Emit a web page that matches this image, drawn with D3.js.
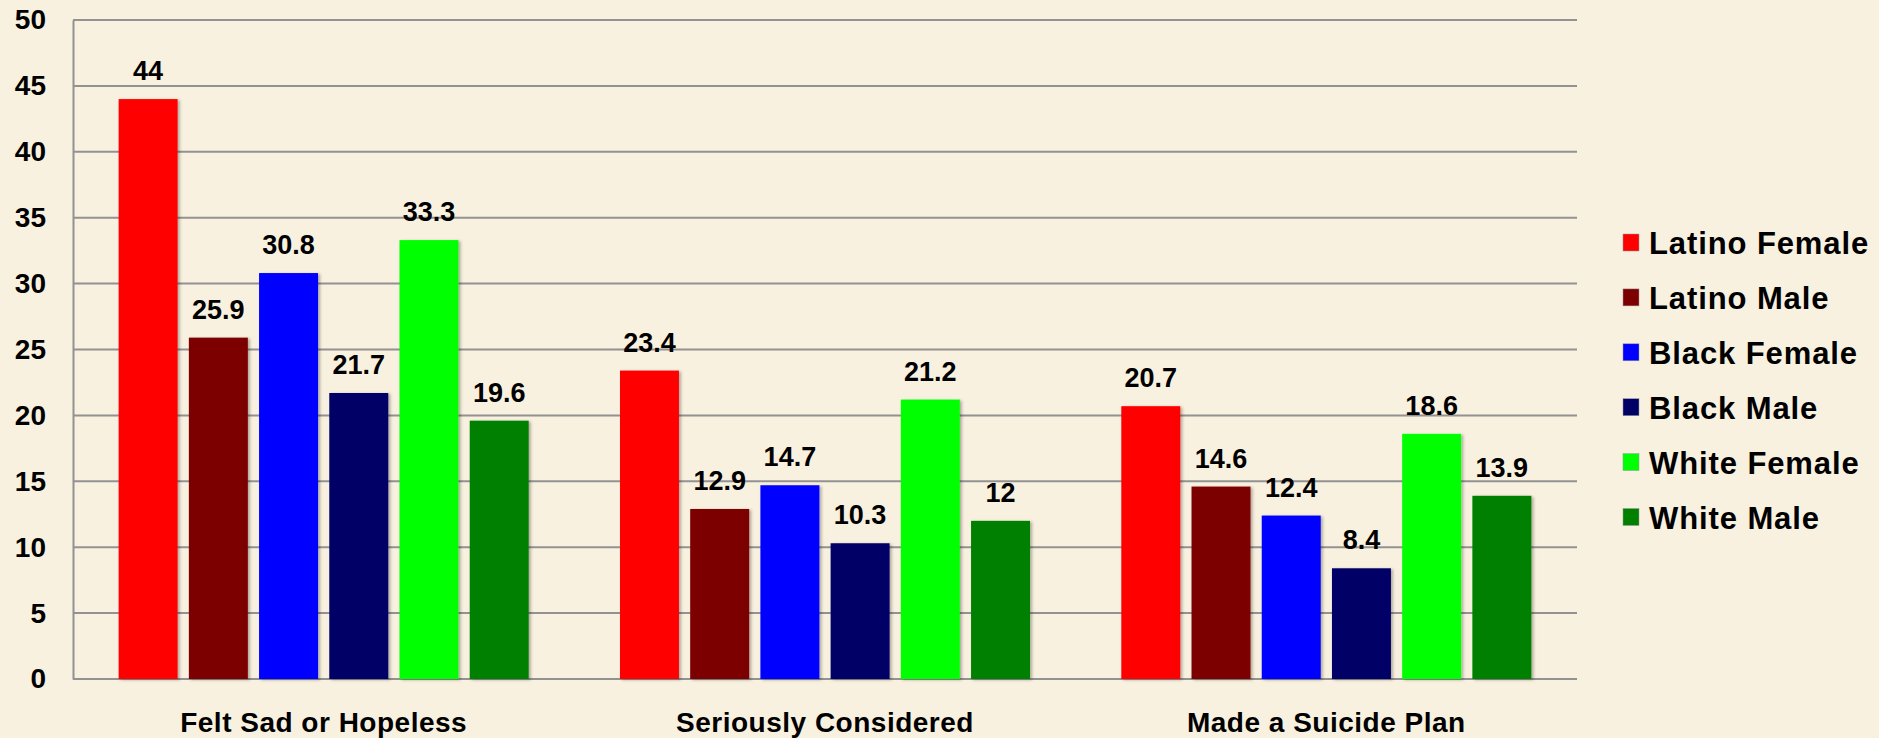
<!DOCTYPE html>
<html>
<head>
<meta charset="utf-8">
<script src="https://cdn.jsdelivr.net/npm/d3@7"></script>
<style>
  html, body { margin: 0; padding: 0; background: #F9F1DF; }
  svg { display: block; }
</style>
</head>
<body>
<div id="chart"></div>
<script>
const categories = ['Felt Sad or Hopeless', 'Seriously Considered', 'Made a Suicide Plan'];
const series = ['Latino Female', 'Latino Male', 'Black Female', 'Black Male', 'White Female', 'White Male'];
const colors = ['#FF0000', '#7D0000', '#0000FF', '#000066', '#00FF00', '#008000'];
const latinoFemale = [44, 23.4, 20.7];
const latinoMale = [25.9, 12.9, 14.6];
const blackFemale = [30.8, 14.7, 12.4];
const blackMale = [21.7, 10.3, 8.4];
const whiteFemale = [33.3, 21.2, 18.6];
const whiteMale = [19.6, 12, 13.9];
const yTicks = [0, 5, 10, 15, 20, 25, 30, 35, 40, 45, 50];

const values = [latinoFemale, latinoMale, blackFemale, blackMale, whiteFemale, whiteMale];

const chartWidth = 1879, chartHeight = 738;
const plotLeft = 73, plotRight = 1577, plotTop = 20, plotBottom = 679;

var svg = d3.select('#chart').append('svg')
	.attr('width', chartWidth)
	.attr('height', chartHeight)
	.style('background', '#F9F1DF')

var defs = svg.append('defs')
defs.append('filter')
	.attr('id', 'shadow')
	.attr('x', '-10%').attr('y', '-10%')
	.attr('width', '130%').attr('height', '130%')
	.append('feDropShadow')
	.attr('dx', 2).attr('dy', 1)
	.attr('stdDeviation', 1.5)
	.attr('flood-color', '#000')
	.attr('flood-opacity', 0.3)

var y = d3.scaleLinear().domain([0, 50]).range([plotBottom, plotTop])
var x0 = d3.scaleBand().domain(categories).range([plotLeft, plotRight]).padding(0)
var x1 = d3.scaleBand().domain(series).range([0, x0.bandwidth()])
	.paddingInner(0.16).paddingOuter(0.65)
var color = d3.scaleOrdinal().domain(series).range(colors)

// gridlines
svg.append('g')
	.selectAll('line')
	.data(yTicks)
	.join('line')
	.attr('x1', plotLeft).attr('x2', plotRight)
	.attr('y1', d => y(d)).attr('y2', d => y(d))
	.attr('stroke', '#929292')
	.attr('stroke-width', 2)

// left axis
var yAxis = svg.append('g')
	.attr('transform', 'translate(' + plotLeft + ',0)')
	.call(d3.axisLeft(y).tickValues(yTicks).tickSize(0).tickPadding(27))
yAxis.select('.domain').attr('stroke', '#929292').attr('stroke-width', 2)
yAxis.selectAll('text')
	.style('font-family', 'Liberation Sans, Arial, sans-serif')
	.style('font-weight', 'bold')
	.style('font-size', '28px')
	.attr('fill', '#000')

// bars
var rows = [];
categories.forEach(function(c, ci) {
	series.forEach(function(s, si) {
		rows.push({cat: c, ser: s, val: values[si][ci]});
	});
});

svg.append('g')
	.selectAll('rect')
	.data(rows)
	.join('rect')
	.attr('x', d => x0(d.cat) + x1(d.ser))
	.attr('y', d => y(d.val))
	.attr('width', x1.bandwidth())
	.attr('height', d => y(0) - y(d.val))
	.attr('fill', d => color(d.ser))
	.attr('filter', 'url(#shadow)')

// value labels
svg.append('g')
	.selectAll('text')
	.data(rows)
	.join('text')
	.attr('x', d => x0(d.cat) + x1(d.ser) + x1.bandwidth() / 2)
	.attr('y', d => y(d.val) - 19)
	.attr('text-anchor', 'middle')
	.style('font-family', 'Liberation Sans, Arial, sans-serif')
	.style('font-weight', 'bold')
	.style('font-size', '27px')
	.text(d => d.val)

// category labels
svg.append('g')
	.selectAll('text')
	.data(categories)
	.join('text')
	.attr('x', d => x0(d) + x0.bandwidth() / 2)
	.attr('y', 732)
	.attr('text-anchor', 'middle')
	.style('font-family', 'Liberation Sans, Arial, sans-serif')
	.style('font-weight', 'bold')
	.style('font-size', '28px')
	.style('letter-spacing', '0.5px')
	.text(d => d)

// legend
var legend = svg.append('g')
	.selectAll('g')
	.data(series)
	.join('g')
	.attr('transform', (d, i) => 'translate(1623,' + (242.5 + i * 54.9) + ')')
legend.append('rect')
	.attr('x', 0).attr('y', -8.5)
	.attr('width', 16).attr('height', 17)
	.attr('fill', d => color(d))
	.attr('stroke', '#999')
	.attr('stroke-width', 0.5)
legend.append('text')
	.attr('x', 26)
	.attr('y', 11.5)
	.style('font-family', 'Liberation Sans, Arial, sans-serif')
	.style('font-weight', 'bold')
	.style('font-size', '31px')
	.style('letter-spacing', '0.9px')
	.text(d => d)
</script>
</body>
</html>
